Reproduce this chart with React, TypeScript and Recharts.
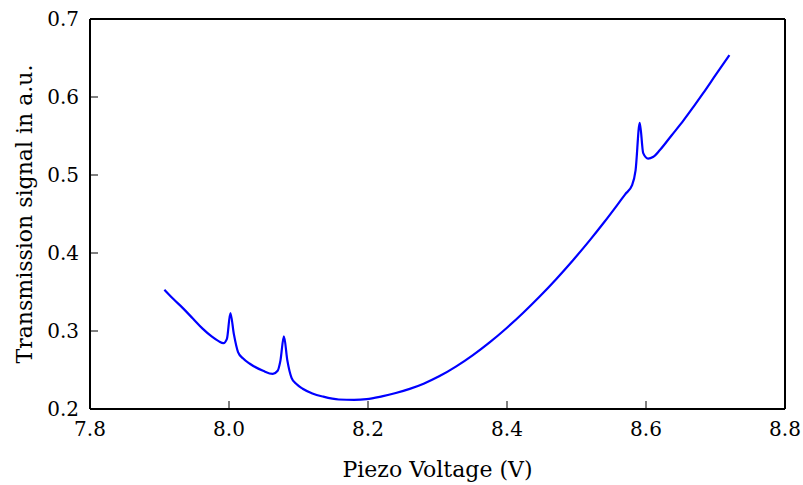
import React from "react";
import { LineChart, Line, XAxis, YAxis } from "recharts";

// Piezo voltage (V) and transmission signal (a.u.)
const voltage = [
  7.907, 7.92, 7.934, 7.948, 7.962, 7.975, 7.985, 7.992, 7.997, 8.002,
  8.007, 8.013, 8.02, 8.03, 8.049, 8.063, 8.07, 8.074, 8.079, 8.084,
  8.09, 8.097, 8.106, 8.12, 8.135, 8.158, 8.18, 8.198, 8.22, 8.24,
  8.26, 8.28, 8.303, 8.327, 8.351, 8.375, 8.4, 8.423, 8.447, 8.471,
  8.495, 8.519, 8.54, 8.558, 8.57, 8.58, 8.585, 8.591, 8.596, 8.603,
  8.61, 8.62, 8.637, 8.654, 8.668, 8.682, 8.7, 8.72,
];
const signal = [
  0.353, 0.341, 0.329, 0.316, 0.303, 0.293, 0.287, 0.2845, 0.29, 0.323,
  0.296, 0.273, 0.265, 0.258, 0.249, 0.245, 0.249, 0.262, 0.293, 0.262,
  0.24, 0.232, 0.226, 0.22, 0.216, 0.2122, 0.2118, 0.2126, 0.2162, 0.2205,
  0.2258, 0.2325, 0.2422, 0.2547, 0.2691, 0.2854, 0.3042, 0.3231, 0.3442, 0.3668,
  0.3908, 0.4162, 0.4397, 0.4608, 0.4752, 0.487, 0.506, 0.567, 0.528, 0.521,
  0.523, 0.532, 0.551, 0.57, 0.587, 0.6046, 0.628, 0.6538,
];
const xTicks = [7.8, 8.0, 8.2, 8.4, 8.6, 8.8];
const yTicks = [0.2, 0.3, 0.4, 0.5, 0.6, 0.7];

const data = voltage.map((v, i) => ({ v, s: signal[i] }));

const font = "DejaVu Serif";
const tickStyle = { fill: "#000", fontSize: 20, fontFamily: font };
const labelStyle = { fill: "#000", fontSize: 22, fontFamily: font };
const axisStroke = { stroke: "#000", strokeWidth: 2 };
const tickStroke = { stroke: "#000", strokeWidth: 1 };

export default function App() {
  return (
    <div style={{ position: "absolute", left: 0, top: 0, background: "#fff" }}>
      <LineChart
        width={803}
        height={485}
        data={data}
        margin={{ top: 18, right: 17, left: 0, bottom: 0 }}
      >
        <XAxis
          dataKey="v"
          type="number"
          domain={[7.8, 8.8]}
          ticks={xTicks}
          allowDataOverflow
          height={76}
          tickSize={-8}
          tickMargin={21}
          tick={tickStyle}
          axisLine={axisStroke}
          tickLine={tickStroke}
          tickFormatter={(t: number) => t.toFixed(1)}
          label={{
            value: "Piezo Voltage (V)",
            position: "insideBottom",
            offset: 8,
            style: labelStyle,
          }}
        />
        <XAxis
          xAxisId="top"
          dataKey="v"
          orientation="top"
          type="number"
          domain={[7.8, 8.8]}
          ticks={xTicks}
          allowDataOverflow
          height={1}
          tickSize={-8}
          tick={false}
          axisLine={axisStroke}
          tickLine={tickStroke}
        />
        <YAxis
          type="number"
          domain={[0.2, 0.7]}
          ticks={yTicks}
          allowDataOverflow
          width={90}
          tickSize={-8}
          tickMargin={19}
          tick={tickStyle}
          axisLine={axisStroke}
          tickLine={tickStroke}
          tickFormatter={(t: number) => t.toFixed(1)}
          label={{
            value: "Transmission signal in a.u.",
            angle: -90,
            position: "insideLeft",
            offset: 24,
            style: { ...labelStyle, textAnchor: "middle" },
          }}
        />
        <YAxis
          yAxisId="right"
          orientation="right"
          type="number"
          domain={[0.2, 0.7]}
          ticks={yTicks}
          allowDataOverflow
          width={1}
          tickSize={-8}
          tick={false}
          axisLine={axisStroke}
          tickLine={tickStroke}
        />
        {/* invisible copy so the top and right frame axes are drawn */}
        <Line
          xAxisId="top"
          yAxisId="right"
          dataKey="s"
          stroke="none"
          dot={false}
          activeDot={false}
          isAnimationActive={false}
        />
        <Line
          dataKey="s"
          type="monotone"
          stroke="#0000ff"
          strokeWidth={2.2}
          dot={false}
          isAnimationActive={false}
        />
      </LineChart>
    </div>
  );
}
